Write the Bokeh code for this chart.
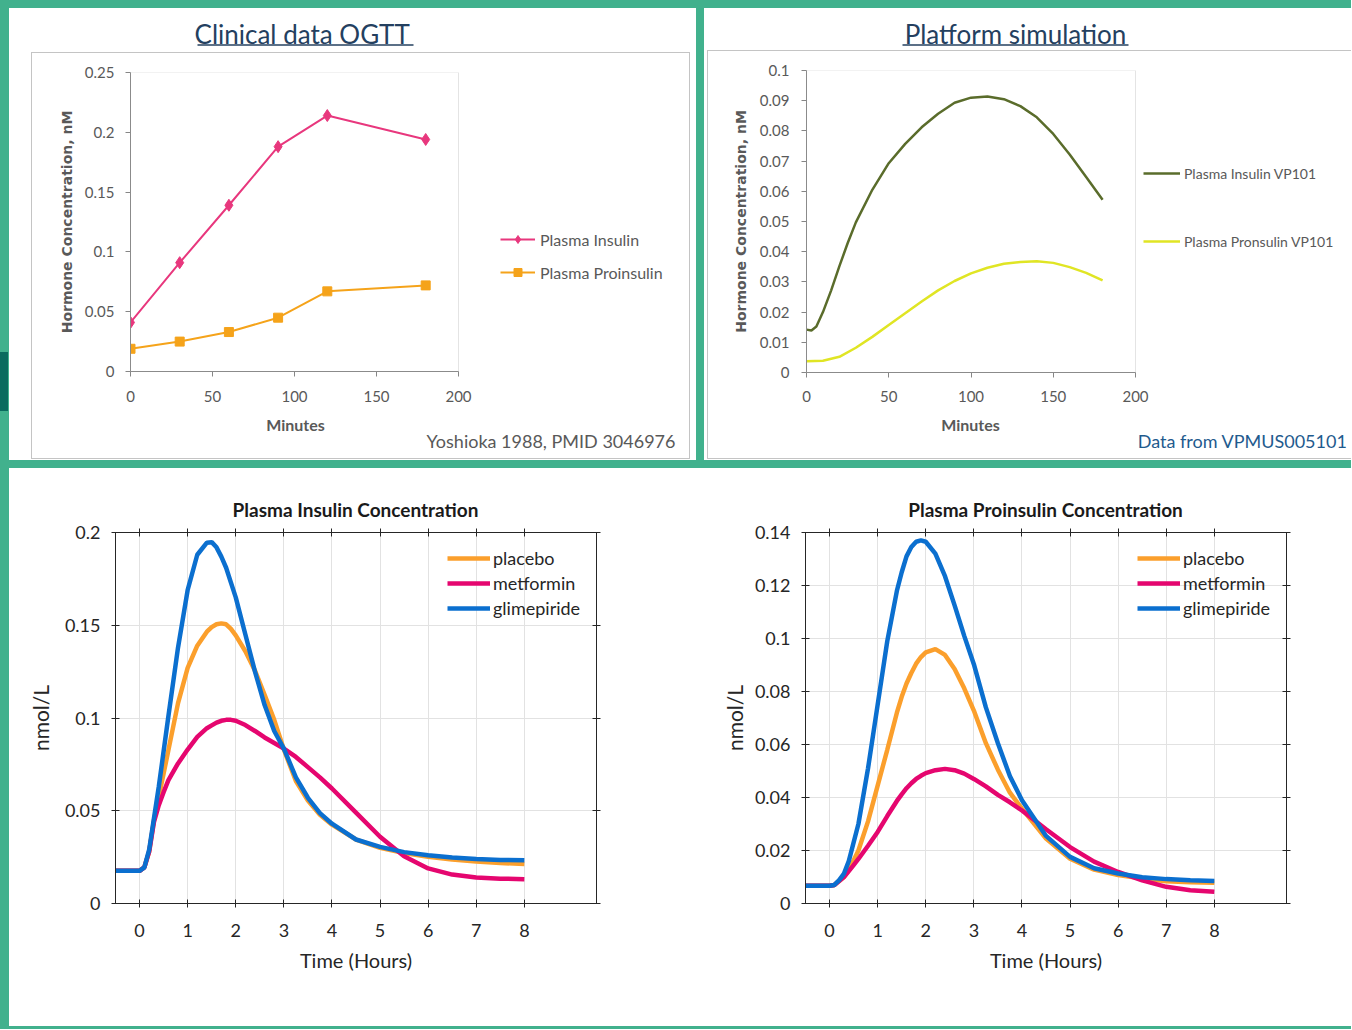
from bokeh.plotting import figure
from bokeh.models import (Range1d, FixedTicker, LinearAxis, Legend, LegendItem, Div,
                          CustomJSTickFormatter, BoxAnnotation)
from bokeh.layouts import column, row
from bokeh.embed import file_html
from bokeh.resources import INLINE
from bokeh.core.properties import value

# ---------------- data ----------------
# Clinical OGTT (Yoshioka 1988)
ogtt_minutes = [0, 30, 60, 90, 120, 180]
ogtt_insulin = [0.041, 0.091, 0.139, 0.188, 0.214, 0.194]
ogtt_proinsulin = [0.019, 0.025, 0.033, 0.045, 0.067, 0.072]

# Platform simulation VP101
sim_minutes_ins = [0, 3, 6, 10, 15, 20, 25, 30, 40, 50, 60, 70, 80, 90, 100, 110, 120,
                   130, 140, 150, 160, 170, 180]
sim_insulin = [0.0142, 0.0139, 0.0152, 0.0200, 0.0272, 0.0352, 0.0428, 0.0497, 0.0605,
               0.0693, 0.0757, 0.0812, 0.0857, 0.0893, 0.0910, 0.0914, 0.0905, 0.0882,
               0.0845, 0.0790, 0.0722, 0.0647, 0.0572]
sim_minutes_pro = [0, 10, 20, 30, 40, 50, 60, 70, 80, 90, 100, 110, 120, 130, 140, 150,
                   160, 170, 180]
sim_proinsulin = [0.0037, 0.0039, 0.0052, 0.0082, 0.0118, 0.0157, 0.0196, 0.0235, 0.0272,
                  0.0303, 0.0328, 0.0347, 0.0360, 0.0366, 0.0368, 0.0363, 0.0349, 0.0330,
                  0.0305]

# Model curves (hours)
hours = [-0.5, 0, 0.1, 0.2, 0.3, 0.4, 0.5, 0.6, 0.8, 1.0, 1.2, 1.4, 1.5, 1.6, 1.7, 1.8,
         1.9, 2.0, 2.2, 2.4, 2.6, 2.8, 3.0, 3.25, 3.5, 3.75, 4.0, 4.5, 5.0, 5.5, 6.0, 6.5,
         7.0, 7.5, 8.0]
ins_placebo = [0.0176, 0.0176, 0.0195, 0.028, 0.045, 0.0575, 0.070, 0.0827, 0.108, 0.127,
               0.139, 0.1465, 0.149, 0.1505, 0.151, 0.1505, 0.148, 0.1445, 0.136, 0.1255,
               0.1125, 0.099, 0.083, 0.066, 0.0555, 0.0478, 0.0425, 0.0345, 0.0300, 0.0272,
               0.0252, 0.0237, 0.0226, 0.0218, 0.0213]
ins_metformin = [0.0176, 0.0176, 0.0195, 0.028, 0.044, 0.053, 0.060, 0.0665, 0.0755, 0.083,
                 0.0898, 0.0945, 0.096, 0.0975, 0.0985, 0.099, 0.099, 0.0985, 0.0962,
                 0.0930, 0.0895, 0.0865, 0.0835, 0.079, 0.0735, 0.068, 0.062, 0.049, 0.036,
                 0.0255, 0.0189, 0.0156, 0.014, 0.0134, 0.0131]
ins_glimepiride = [0.0176, 0.0176, 0.0195, 0.029, 0.046, 0.063, 0.082, 0.101, 0.138, 0.169,
                   0.188, 0.1945, 0.1948, 0.192, 0.187, 0.181, 0.173, 0.165, 0.145, 0.125,
                   0.107, 0.093, 0.0835, 0.068, 0.057, 0.0487, 0.043, 0.0345, 0.0305,
                   0.0277, 0.026, 0.0248, 0.024, 0.0235, 0.0233]
pro_placebo = [0.0067, 0.0067, 0.0070, 0.0085, 0.010, 0.0125, 0.0162, 0.020, 0.031, 0.0445,
               0.058, 0.072, 0.078, 0.083, 0.087, 0.0905, 0.093, 0.0948, 0.096, 0.0938,
               0.0885, 0.0812, 0.0728, 0.0605, 0.0505, 0.0418, 0.0358, 0.0245, 0.0169,
               0.0128, 0.0107, 0.0094, 0.0084, 0.008, 0.0078]
pro_metformin = [0.0067, 0.0067, 0.0070, 0.0085, 0.010, 0.0122, 0.0145, 0.0168, 0.0218,
                 0.027, 0.033, 0.0387, 0.0412, 0.0435, 0.0454, 0.047, 0.0482, 0.0492,
                 0.0503, 0.0508, 0.0503, 0.049, 0.047, 0.0442, 0.041, 0.0382, 0.0351,
                 0.028, 0.0213, 0.0158, 0.0119, 0.0087, 0.0063, 0.005, 0.0044]
pro_glimepiride = [0.0067, 0.0067, 0.0070, 0.0088, 0.0113, 0.016, 0.023, 0.030, 0.051,
                   0.075, 0.099, 0.118, 0.125, 0.131, 0.1345, 0.1365, 0.137, 0.1365, 0.132,
                   0.1235, 0.1125, 0.101, 0.0903, 0.074, 0.0605, 0.048, 0.039, 0.0255,
                   0.0176, 0.0133, 0.0113, 0.0099, 0.0092, 0.0088, 0.0085]

minute_ticks = [0, 50, 100, 150, 200]
ogtt_yticks = [0, 0.05, 0.1, 0.15, 0.2, 0.25]
sim_yticks = [0, 0.01, 0.02, 0.03, 0.04, 0.05, 0.06, 0.07, 0.08, 0.09, 0.1]
hour_ticks = [0, 1, 2, 3, 4, 5, 6, 7, 8]
ins_yticks = [0, 0.05, 0.1, 0.15, 0.2]
pro_yticks = [0, 0.02, 0.04, 0.06, 0.08, 0.1, 0.12, 0.14]

# ---------------- style ----------------
FONT = "Lato"
GREEN = "#41b18d"
TEAL = "#0a6b5e"
BOXGRAY = "#c4c4c4"
GRAY = "#595959"
DARK = "#262626"
TITLE_BLUE = "#24405f"
PINK_A = "#e8377d"
ORANGE_A = "#f5a31a"
OLIVE = "#5a6c2b"
YELLOW = "#e0e524"
C_PLACEBO = "#fb9f2c"
C_METFORMIN = "#e5066f"
C_GLIME = "#0b6fcf"
FMT = r"return tick.toFixed(2).replace(/\.?0+$/, '');"


def block(w, h, color):
    return Div(width=w, height=h, margin=0, styles={"background-color": color})


def solo(p, w, h):
    """Wrap a figure in its own row so that sibling figures do not align their frames."""
    return row(p, block(1, h, "white"))


def text_fig(w, h, texts, underline=None):
    """A plain white strip whose frame is the whole canvas, used for titles / captions."""
    p = figure(width=w, height=h, x_range=Range1d(0, w), y_range=Range1d(h, 0),
               toolbar_location=None, output_backend="svg", x_axis_type=None,
               y_axis_type=None, min_border=0, outline_line_color=None,
               background_fill_color="white", border_fill_color="white")
    for (x, y, txt, size, color, align, style) in texts:
        p.text(x=[x], y=[y], text=[txt], text_font=value(FONT), text_font_size=value(size),
               text_color=color, text_align=align, text_baseline="middle",
               text_font_style=style)
    if underline is not None:
        x0, x1, y, color = underline
        p.segment(x0=[x0], y0=[y], x1=[x1], y1=[y], line_color=color, line_width=1.6)
    return p


def excel_fig(width, height, plot_px, frame_px, ytop, yticks, mbl, mbt, mbb,
              y_standoff, ylabel_standoff, x_standoff):
    """Excel-style chart; the frame is widened to the right so the legend can sit inside it,
    while the 0..200 plot area is outlined by a box annotation."""
    x_end = 200.0 * frame_px / plot_px
    p = figure(width=width, height=height, x_range=Range1d(0, x_end),
               y_range=Range1d(0, ytop), toolbar_location=None, output_backend="svg",
               min_border_left=mbl, min_border_right=width - mbl - frame_px,
               min_border_top=mbt, min_border_bottom=mbb, outline_line_color=None,
               background_fill_color="white", border_fill_color="white")
    p.add_layout(BoxAnnotation(left=0, right=200, bottom=0, top=ytop, fill_alpha=0,
                               fill_color=None, line_color="#a6a6a6", line_width=1))
    p.xaxis.ticker = FixedTicker(ticks=minute_ticks)
    p.xaxis.bounds = (0, 200)
    p.yaxis.ticker = FixedTicker(ticks=yticks)
    p.yaxis.formatter = CustomJSTickFormatter(code=FMT)
    p.xgrid.visible = False
    p.ygrid.visible = False
    for ax in (p.xaxis[0], p.yaxis[0]):
        ax.axis_line_color = "#868686"
        ax.major_tick_line_color = "#868686"
        ax.major_tick_out = 5
        ax.major_tick_in = 0
        ax.minor_tick_line_color = None
        ax.major_label_text_font = FONT
        ax.major_label_text_font_size = "15px"
        ax.major_label_text_color = GRAY
        ax.axis_label_text_color = GRAY
        ax.axis_label_text_font_style = "bold"
    p.xaxis.major_label_standoff = x_standoff
    p.yaxis.axis_label = "Hormone Concentration, nM"
    p.yaxis.axis_label_text_font = "DejaVu Sans"
    p.yaxis.axis_label_text_font_size = "14px"
    p.yaxis.major_label_standoff = y_standoff
    p.yaxis.axis_label_standoff = ylabel_standoff
    return p


def excel_legend(items, loc, gw, standoff, spacing, size):
    return Legend(items=items, location=loc, glyph_width=gw, glyph_height=20,
                  label_height=20, label_standoff=standoff, spacing=spacing, padding=0,
                  margin=0, border_line_color=None, background_fill_alpha=0,
                  label_text_font=FONT, label_text_font_size=size, label_text_color=GRAY)


# ---------------- panel A: clinical data ----------------
pA = excel_fig(656, 361, 328, 550, 0.25, ogtt_yticks, 98, 19, 43, 11, 7, 14)
rA1 = pA.line(ogtt_minutes, ogtt_insulin, line_color=PINK_A, line_width=2)
sA1 = pA.scatter(ogtt_minutes, ogtt_insulin, marker="diamond", size=12,
                 fill_color=PINK_A, line_color=PINK_A)
rA2 = pA.line(ogtt_minutes, ogtt_proinsulin, line_color=ORANGE_A, line_width=2)
sA2 = pA.scatter(ogtt_minutes, ogtt_proinsulin, marker="square", size=9,
                 fill_color=ORANGE_A, line_color=ORANGE_A)
pA.add_layout(excel_legend([LegendItem(label="Plasma Insulin", renderers=[rA1, sA1]),
                            LegendItem(label="Plasma Proinsulin", renderers=[rA2, sA2])],
                           (370, 89), 35, 5, 13, "16px"))

headA = text_fig(687, 44, [(296, 25, "Clinical data  OGTT", "26px", TITLE_BLUE, "center", "normal")],
                 underline=(188, 404, 36.5, TITLE_BLUE))
capA = text_fig(656, 43, [(263, 10, "Minutes", "16px", GRAY, "center", "bold"),
                          (643, 26, "Yoshioka 1988, PMID 3046976", "18px", GRAY, "right", "normal")])

panelA = column(
    headA,
    row(block(22, 407, "white"),
        column(block(659, 1, BOXGRAY),
               row(block(1, 405, BOXGRAY),
                   column(solo(pA, 656, 361), solo(capA, 656, 43), block(657, 1, "white")),
                   block(1, 405, BOXGRAY)),
               block(659, 1, BOXGRAY)),
        block(6, 407, "white")),
    block(687, 1, "white"),
)

# ---------------- panel B: platform simulation ----------------
pB = excel_fig(642, 363, 329, 544, 0.1, sim_yticks, 98, 19, 42, 12, 8, 13)
rB1 = pB.line(sim_minutes_ins, sim_insulin, line_color=OLIVE, line_width=2.5)
rB2 = pB.line(sim_minutes_pro, sim_proinsulin, line_color=YELLOW, line_width=2.5)
pB.add_layout(excel_legend([LegendItem(label="Plasma Insulin VP101", renderers=[rB1]),
                            LegendItem(label="Plasma Pronsulin VP101", renderers=[rB2])],
                           (337, 121), 37, 4, 48, "14px"))

headB = text_fig(647, 42, [(311, 25, "Platform simulation", "26px", TITLE_BLUE, "center", "normal")],
                 underline=(198, 424, 36.5, TITLE_BLUE))
capB = text_fig(642, 43, [(262, 10, "Minutes", "16px", GRAY, "center", "bold"),
                          (639, 26, "Data from VPMUS005101", "18px", "#1f5b8e", "right", "normal")])

panelB = column(
    headB,
    row(block(3, 409, "white"),
        column(block(644, 1, BOXGRAY),
               row(block(1, 407, BOXGRAY),
                   column(solo(pB, 642, 363), solo(capB, 642, 43), block(643, 1, "white"))),
               block(644, 1, BOXGRAY))),
    block(647, 1, "white"),
)


# ---------------- panels C/D: model curves ----------------
def model_fig(w, yend, yticks, mbl, mbr, series, y_label_standoff):
    p = figure(width=w, height=506, x_range=Range1d(-0.5, 9.5),
               y_range=Range1d(0, yend), toolbar_location=None, output_backend="svg",
               min_border_left=mbl, min_border_right=mbr, min_border_top=12,
               min_border_bottom=123, outline_line_color=DARK,
               background_fill_color="white", border_fill_color="white")
    p.xaxis.ticker = FixedTicker(ticks=hour_ticks)
    p.yaxis.ticker = FixedTicker(ticks=yticks)
    p.xgrid.ticker = FixedTicker(ticks=hour_ticks)
    p.ygrid.ticker = FixedTicker(ticks=yticks)
    p.yaxis.formatter = CustomJSTickFormatter(code=FMT)
    p.xgrid.grid_line_color = "#e2e2e2"
    p.ygrid.grid_line_color = "#e2e2e2"
    for ax in (p.xaxis[0], p.yaxis[0]):
        ax.axis_line_color = DARK
        ax.major_tick_line_color = DARK
        ax.major_tick_in = 4
        ax.major_tick_out = 4
        ax.minor_tick_line_color = None
        ax.major_label_text_font = FONT
        ax.major_label_text_font_size = "18px"
        ax.major_label_text_color = DARK
        ax.axis_label_text_font = FONT
        ax.axis_label_text_font_style = "normal"
        ax.axis_label_text_color = DARK
    p.xaxis.axis_label = "Time (Hours)"
    p.xaxis.axis_label_text_font_size = "20px"
    p.xaxis.major_label_standoff = 16
    p.xaxis.axis_label_standoff = 8
    p.yaxis.axis_label = "nmol/L"
    p.yaxis.axis_label_text_font_size = "21px"
    p.yaxis.major_label_standoff = 11
    p.yaxis.axis_label_standoff = y_label_standoff
    for place, tk in (("above", hour_ticks), ("right", yticks)):
        ax = LinearAxis(ticker=FixedTicker(ticks=tk),
                        formatter=CustomJSTickFormatter(code="return '';"),
                        axis_line_color=DARK, major_tick_line_color=DARK,
                        major_tick_in=4, major_tick_out=4, minor_tick_line_color=None,
                        major_label_text_font_size="0px", major_label_standoff=0)
        p.add_layout(ax, place)
    items = []
    for name, vals, color in series:
        r = p.line(hours, vals, line_color=color, line_width=4.5)
        items.append(LegendItem(label=name, renderers=[r]))
    leg = Legend(items=items, location=(332, 284), glyph_width=43, glyph_height=20,
                 label_height=20, label_standoff=3, spacing=3, padding=0, margin=0,
                 border_line_color=None, background_fill_alpha=0,
                 label_text_font=FONT, label_text_font_size="18px", label_text_color=DARK)
    p.add_layout(leg)
    return p


pC = model_fig(666, 0.2, ins_yticks, 106, 79,
               [("placebo", ins_placebo, C_PLACEBO), ("metformin", ins_metformin, C_METFORMIN),
                ("glimepiride", ins_glimepiride, C_GLIME)], 9)
pD = model_fig(674, 0.14, pro_yticks, 129, 64,
               [("placebo", pro_placebo, C_PLACEBO), ("metformin", pro_metformin, C_METFORMIN),
                ("glimepiride", pro_glimepiride, C_GLIME)], 5)
headC = text_fig(666, 51, [(346, 40, "Plasma Insulin Concentration", "19px", "#1a1a1a", "center", "bold")])
headD = text_fig(674, 51, [(369, 40, "Plasma Proinsulin Concentration", "19px", "#1a1a1a", "center", "bold")])

left1 = column(block(9, 344, GREEN), row(block(8, 59, TEAL), block(1, 59, GREEN)),
               block(9, 49, GREEN))

layout = column(
    block(1351, 8, GREEN),
    row(left1, panelA, block(8, 452, GREEN), panelB),
    block(1351, 8, GREEN),
    row(block(9, 558, GREEN),
        column(block(667, 1, "white"), solo(headC, 666, 51), solo(pC, 666, 506)),
        column(block(675, 1, "white"), solo(headD, 674, 51), solo(pD, 674, 506))),
    block(1351, 3, GREEN),
)

open("out.html", "w").write(file_html(layout, INLINE))
